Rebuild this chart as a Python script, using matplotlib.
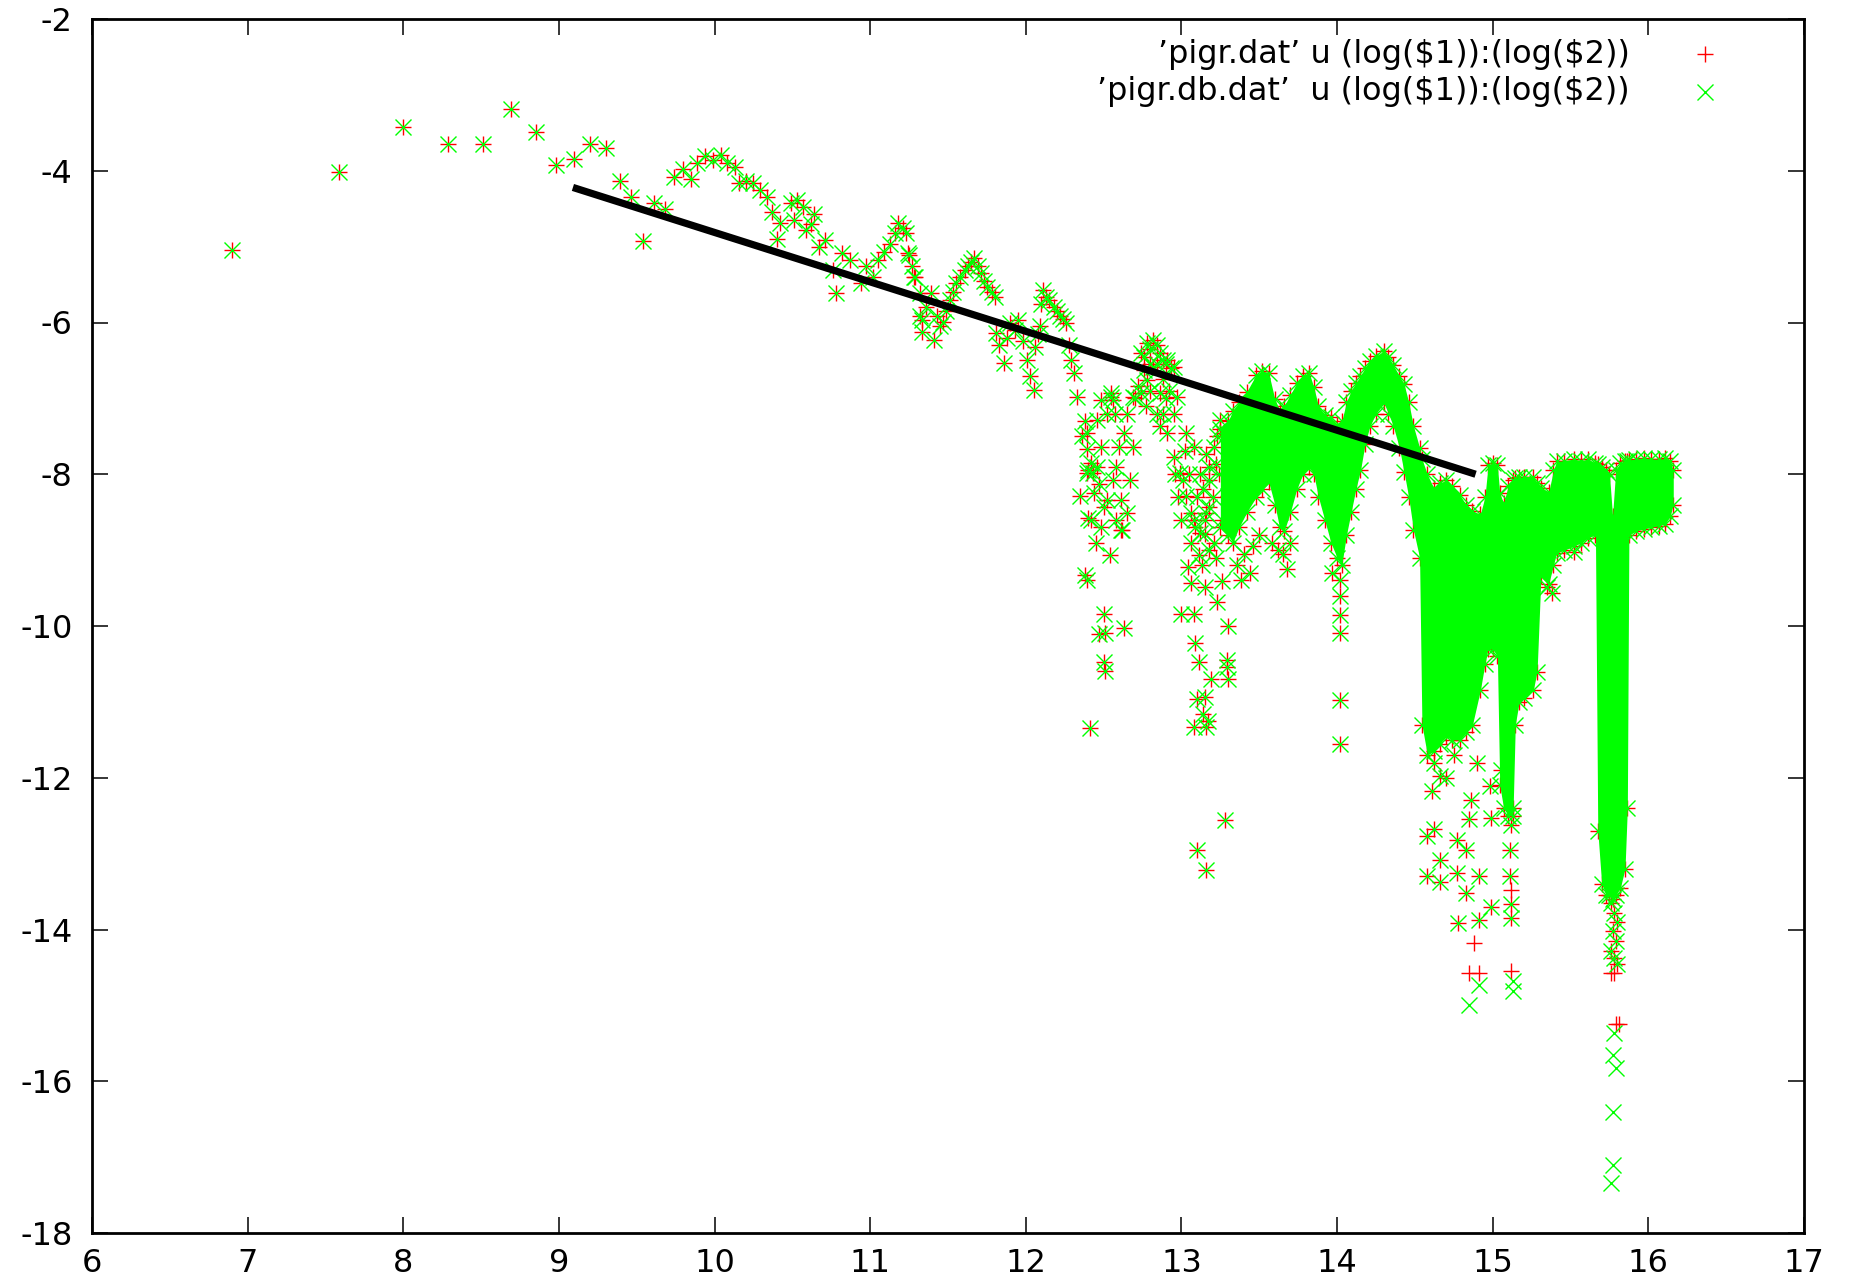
import numpy as np
import matplotlib
matplotlib.use("Agg")
import matplotlib.pyplot as plt

# ---------------------------------------------------------------- data
# isolated samples (both files give the same value here)
early_x = [6.90, 7.59, 8.00, 8.29, 8.51, 8.69, 8.85, 8.98, 9.10, 9.20, 9.30, 9.39,
           9.46, 9.54, 9.61, 9.68, 9.74, 9.80, 9.85, 9.89, 9.94, 9.99, 10.04, 10.08,
           10.13, 10.16, 10.20, 10.25, 10.29, 10.34, 10.37, 10.40, 10.42, 10.49, 10.51,
           10.53, 10.57, 10.59, 10.62, 10.64, 10.67, 10.71, 10.76, 10.78, 10.82, 10.87,
           10.94, 10.97]
early_y = [-5.05, -4.01, -3.42, -3.65, -3.65, -3.18, -3.49, -3.92, -3.85, -3.65, -3.70, -4.13,
           -4.35, -4.93, -4.42, -4.51, -4.08, -3.98, -4.11, -3.90, -3.81, -3.86, -3.79, -3.90,
           -3.95, -4.16, -4.14, -4.16, -4.25, -4.34, -4.54, -4.90, -4.69, -4.42, -4.65,
           -4.38, -4.48, -4.78, -4.70, -4.57, -5.00, -4.91, -5.31, -5.61, -5.09, -5.18,
           -5.48, -5.26]

mid_x = [11.02, 11.05, 11.09, 11.13, 11.16, 11.18, 11.21, 11.23, 11.24, 11.25, 11.27, 11.28,
         11.29, 11.32, 11.32, 11.33, 11.33, 11.36, 11.39, 11.41, 11.43, 11.45, 11.47, 11.49,
         11.51, 11.53, 11.55, 11.58, 11.61, 11.63, 11.65, 11.67, 11.69, 11.71, 11.73, 11.75,
         11.78, 11.80, 11.81, 11.83, 11.86, 11.88, 11.90, 11.93, 11.95, 11.98, 12.01, 12.03,
         12.05, 12.06, 12.08, 12.09, 12.10, 12.11, 12.13, 12.15, 12.18, 12.20, 12.22, 12.24,
         12.26, 12.28, 12.29, 12.31, 12.33]
mid_y = [-5.40, -5.18, -5.07, -4.96, -4.82, -4.69, -4.75, -4.82, -5.09, -5.11, -5.26, -5.40,
         -5.40, -5.61, -5.92, -5.97, -6.12, -5.80, -5.61, -6.23, -5.92, -6.05, -5.99, -5.85,
         -5.70, -5.60, -5.48, -5.40, -5.31, -5.25, -5.20, -5.15, -5.25, -5.35, -5.45, -5.53,
         -5.60, -5.66, -6.14, -6.30, -6.54, -6.20, -6.01, -6.10, -5.97, -6.25, -6.49, -6.70,
         -6.89, -6.32, -6.15, -6.05, -5.75, -5.57, -5.66, -5.70, -5.79, -5.85, -5.92, -5.95,
         -6.01, -6.30, -6.49, -6.67, -6.98]

cluster_x = [12.35, 12.36, 12.38, 12.38, 12.39, 12.39, 12.39, 12.39, 12.40, 12.40, 12.41, 12.42,
             12.42, 12.43, 12.44, 12.45, 12.46, 12.46, 12.47, 12.47, 12.48, 12.48, 12.48, 12.50,
             12.50, 12.50, 12.51, 12.51, 12.52, 12.52, 12.54, 12.55, 12.55, 12.56, 12.56, 12.57,
             12.58, 12.58, 12.60, 12.61, 12.61, 12.62, 12.63, 12.63, 12.65, 12.65, 12.67, 12.69,
             12.69, 12.70, 12.72, 12.74, 12.74, 12.76, 12.78, 12.78, 12.80, 12.82, 12.82, 12.84,
             12.86, 12.86, 12.86, 12.88, 12.88, 12.90, 12.91, 12.91, 12.93, 12.95, 12.95, 12.95,
             12.97, 12.99, 13.01, 13.03, 13.03, 13.06, 13.08, 13.08, 13.09, 13.12, 13.12, 13.15,
             13.16, 13.16, 13.18, 13.18, 13.21, 13.22, 13.23, 13.25, 13.27, 13.29, 13.33,
             12.76, 12.80, 12.84, 12.88, 12.92, 12.80, 12.77, 12.90, 12.84, 13.02, 13.05, 13.10,
             13.14, 13.18, 13.20, 13.24, 13.13, 13.18, 13.22, 13.06, 13.00, 12.98, 12.96]
cluster_y = [-8.29, -7.50, -7.30, -9.33, -7.46, -7.67, -7.99, -9.40, -7.94, -8.58, -11.34, -8.60,
             -7.85, -7.98, -8.25, -8.90, -7.90, -7.28, -8.13, -10.11, -7.64, -8.69, -7.02, -9.84,
             -10.47, -8.43, -10.59, -10.09, -7.20, -8.34, -9.07, -6.93, -6.98, -8.07, -7.02, -7.20,
             -8.60, -7.90, -7.64, -8.34, -8.73, -8.73, -10.03, -7.46, -7.20, -8.51, -8.07, -6.98,
             -7.64, -7.00, -6.84, -6.40, -6.93, -6.62, -6.27, -6.76, -6.35, -6.23, -6.58, -6.30,
             -6.40, -6.93, -7.37, -6.50, -7.20, -6.55, -6.49, -7.46, -6.60, -6.58, -7.20, -7.77,
             -6.98, -7.99, -8.07, -8.29, -7.46, -8.51, -8.60, -7.64, -8.70, -8.78, -8.00, -8.60,
             -8.51, -7.73, -8.07, -8.43, -7.64, -7.86, -7.50, -7.28, -7.45, -7.46, -7.72,
             -6.45, -6.55, -6.55, -6.75, -6.90, -6.90, -7.10, -7.00, -7.20, -7.70, -8.00, -8.30,
             -8.20, -7.90, -8.30, -8.00, -9.20, -9.00, -9.10, -8.90, -8.60, -8.30, -8.00]

# samples lying below the main band
deep_x = [13.00, 13.04, 13.06, 13.08, 13.08, 13.09, 13.10, 13.10, 13.11, 13.11, 13.14, 13.15,
          13.15, 13.15, 13.16, 13.16, 13.17, 13.19, 13.21, 13.23, 13.26, 13.26, 13.28, 13.29,
          13.29, 13.30, 13.30, 13.30, 13.36, 13.40, 13.46, 13.50, 13.58, 13.62, 13.65, 13.70,
          13.38, 13.44, 13.68, 13.97,
          14.02, 14.02, 14.02, 14.02, 14.02, 14.02,
          14.58, 14.58, 14.61, 14.62, 14.62, 14.66, 14.66, 14.66, 14.70, 14.75, 14.77, 14.77,
          14.78, 14.83, 14.83, 14.85, 14.86, 14.90, 14.91, 14.91, 14.98, 14.99, 14.99, 15.05,
          15.11, 15.11, 15.12, 15.12, 15.12, 15.13, 15.35, 15.38, 15.52,
          15.76, 15.78, 15.80, 15.77, 15.79, 15.76, 15.78, 15.80]
deep_y = [-9.84, -9.22, -9.43, -9.84, -11.33, -10.23, -10.96, -12.95, -10.47, -9.07, -11.16, -10.93,
          -9.49, -8.79, -11.33, -13.21, -11.25, -10.70, -8.91, -9.69, -9.41, -8.60, -12.56, -10.54,
          -10.45, -10.70, -10.00, -8.29, -9.20, -9.05, -8.95, -8.80, -8.90, -9.00, -9.05, -8.90,
          -9.40, -9.30, -9.25, -9.30,
          -9.40, -9.60, -9.85, -10.09, -10.97, -11.55,
          -12.77, -13.30, -12.18, -11.81, -12.68, -11.98, -13.08, -13.37, -12.00, -11.70, -12.82, -13.26,
          -13.91, -12.95, -13.52, -12.55, -12.29, -11.80, -13.29, -13.87, -12.11, -12.53, -13.70, -11.90,
          -12.95, -13.30, -13.67, -13.85, -12.62, -12.40, -9.49, -9.57, -9.02,
          -13.65, -13.78, -13.90, -14.02, -14.15, -14.28, -14.38, -14.45]

# samples that only 'pigr.dat' reaches
red_only_x = [14.85, 14.91, 14.88, 15.12, 15.12, 15.76, 15.78, 15.79, 15.81]
red_only_y = [-14.57, -14.57, -14.18, -14.55, -13.48, -14.57, -14.57, -15.25, -15.25]

# samples that only 'pigr.db.dat' reaches
green_only_x = [14.85, 14.91, 15.13, 15.13, 15.78, 15.77, 15.79, 15.77, 15.77, 15.76]
green_only_y = [-14.99, -14.73, -14.68, -14.81, -15.37, -15.65, -15.82, -16.40, -17.10, -17.34]

# dense high-frequency part: upper / lower extent of the sample cloud
band_x = [13.25, 13.30, 13.33, 13.37, 13.42, 13.48, 13.52, 13.56, 13.60, 13.63, 13.66, 13.70,
          13.74, 13.78, 13.82, 13.85, 13.88, 13.92, 13.96, 14.00, 14.03, 14.06, 14.09, 14.12,
          14.15, 14.18, 14.21, 14.25, 14.30, 14.33, 14.36, 14.40, 14.43, 14.46, 14.49, 14.53,
          14.545, 14.58, 14.62, 14.66, 14.70, 14.74, 14.79, 14.83, 14.87, 14.92, 14.95, 14.97,
          15.00, 15.03, 15.045, 15.07, 15.10, 15.13, 15.145, 15.17, 15.20, 15.26, 15.285, 15.31,
          15.36, 15.39, 15.41, 15.46, 15.52, 15.57, 15.61, 15.66, 15.675, 15.70, 15.73, 15.75,
          15.77, 15.79, 15.82, 15.85, 15.865, 15.875, 15.92, 15.97, 16.02, 16.07, 16.11, 16.14,
          16.16]
band_top = [-7.40, -7.30, -7.16, -7.05, -6.91, -6.69, -6.64, -6.66, -7.01, -7.15, -7.10, -6.95,
            -6.80, -6.70, -6.66, -6.85, -7.10, -7.22, -7.25, -7.35, -7.30, -7.05, -6.90, -6.80,
            -6.71, -6.60, -6.51, -6.44, -6.38, -6.45, -6.56, -6.70, -6.81, -7.05, -7.36, -7.65,
            -7.80, -8.00, -8.18, -8.12, -8.08, -8.15, -8.28, -8.40, -8.48, -8.53, -8.30, -7.88,
            -7.85, -7.88, -8.25, -8.38, -8.15, -8.08, -8.05, -8.04, -8.03, -8.03, -8.12, -8.18,
            -8.23, -7.95, -7.83, -7.82, -7.80, -7.82, -7.80, -7.85, -7.86, -7.90, -7.95, -8.00,
            -8.55, -7.95, -7.85, -7.82, -7.82, -7.81, -7.80, -7.78, -7.80, -7.80, -7.79, -7.82,
            -7.95]
band_bot = [-8.70, -8.80, -8.90, -8.70, -8.50, -8.30, -8.20, -8.10, -8.40, -8.70, -8.75, -8.50,
            -8.20, -8.00, -7.90, -8.00, -8.30, -8.60, -8.90, -9.10, -9.20, -8.80, -8.50, -8.20,
            -7.95, -7.60, -7.37, -7.20, -7.06, -7.20, -7.36, -7.65, -7.97, -8.30, -8.73, -9.10,
            -11.30, -11.70, -11.65, -11.55, -11.45, -11.50, -11.50, -11.40, -11.30, -10.85, -10.50, -10.30,
            -10.30, -10.40, -12.10, -12.40, -12.50, -12.50, -11.30, -11.00, -10.95, -10.85, -10.60, -9.34,
            -9.44, -9.20, -9.04, -9.00, -8.95, -8.90, -8.84, -8.80, -12.70, -13.40, -13.55, -13.55,
            -13.60, -13.55, -13.45, -13.20, -12.40, -8.80, -8.75, -8.72, -8.70, -8.68, -8.65, -8.55,
            -8.40]

# straight fitted line
fit_x = [9.09, 14.89]
fit_y = [-4.22, -8.00]

label_dat = "\u2019pigr.dat\u2019 u (log(\\$1)):(log(\\$2))"
label_db = "\u2019pigr.db.dat\u2019  u (log(\\$1)):(log(\\$2))"

x_ticks = list(range(6, 18))
y_ticks = list(range(-18, -1, 2))

# ---------------------------------------------------------------- style
RED = "#ff0000"
GREEN = "#00ff00"
MS = 12
MEW = 1.0
FONT = "DejaVu Sans"
FS = 23

plt.rcParams["font.family"] = [FONT]

fig = plt.figure(figsize=(18.52, 12.88), dpi=100)
ax = fig.add_axes([92 / 1852, 55 / 1288, (1804 - 92) / 1852, (1233 - 19) / 1288])

shared_x = early_x + mid_x + cluster_x + deep_x
shared_y = early_y + mid_y + cluster_y + deep_y

# first file: red plus signs
red_kw = dict(ls="none", marker="+", ms=MS, mew=MEW, color=RED, zorder=2)
ax.plot(shared_x, shared_y, **red_kw)
ax.plot(red_only_x, red_only_y, **red_kw)
ax.plot(band_x, band_top, **red_kw)
ax.plot(band_x, band_bot, **red_kw)

# second file: green crosses, drawn on top
green_kw = dict(ls="none", marker="x", ms=MS, mew=MEW, color=GREEN, zorder=4)
ax.fill_between(band_x, band_bot, band_top, color=GREEN, lw=0, zorder=3)
ax.plot(band_x, band_top, **green_kw)
ax.plot(band_x, band_bot, **green_kw)
ax.plot(shared_x, shared_y, **green_kw)
ax.plot(green_only_x, green_only_y, **green_kw)

# fitted line
ax.plot(fit_x, fit_y, color="black", lw=5.2, solid_capstyle="butt", zorder=6)

# ---------------------------------------------------------------- axes
ax.set_xlim(6, 17)
ax.set_ylim(-18, -2)
ax.set_xticks(x_ticks)
ax.set_yticks(y_ticks)
ax.set_xticklabels([str(v) for v in x_ticks])
ax.set_yticklabels([str(v) for v in y_ticks])
ax.tick_params(direction="in", length=11.5, width=1.1, top=True, right=True,
               labelsize=FS, colors="black")
ax.tick_params(axis="x", pad=11)
ax.tick_params(axis="y", pad=14)
for s in ax.spines.values():
    s.set_linewidth(2.0)
    s.set_zorder(7)

# key in the upper right corner
tx = (1630 - 92) / 1712
mx = (1705 - 92) / 1712
for yy, lab, mk, col in [(0.971, label_dat, "+", RED), (0.940, label_db, "x", GREEN)]:
    ax.text(tx, yy, lab, transform=ax.transAxes, ha="right", va="center",
            fontsize=FS, color="black", zorder=8)
    ax.plot([mx], [yy], transform=ax.transAxes, ls="none", marker=mk, ms=MS, mew=MEW,
            color=col, clip_on=False, zorder=8)

fig.savefig("out.png", dpi=100, facecolor="white")
